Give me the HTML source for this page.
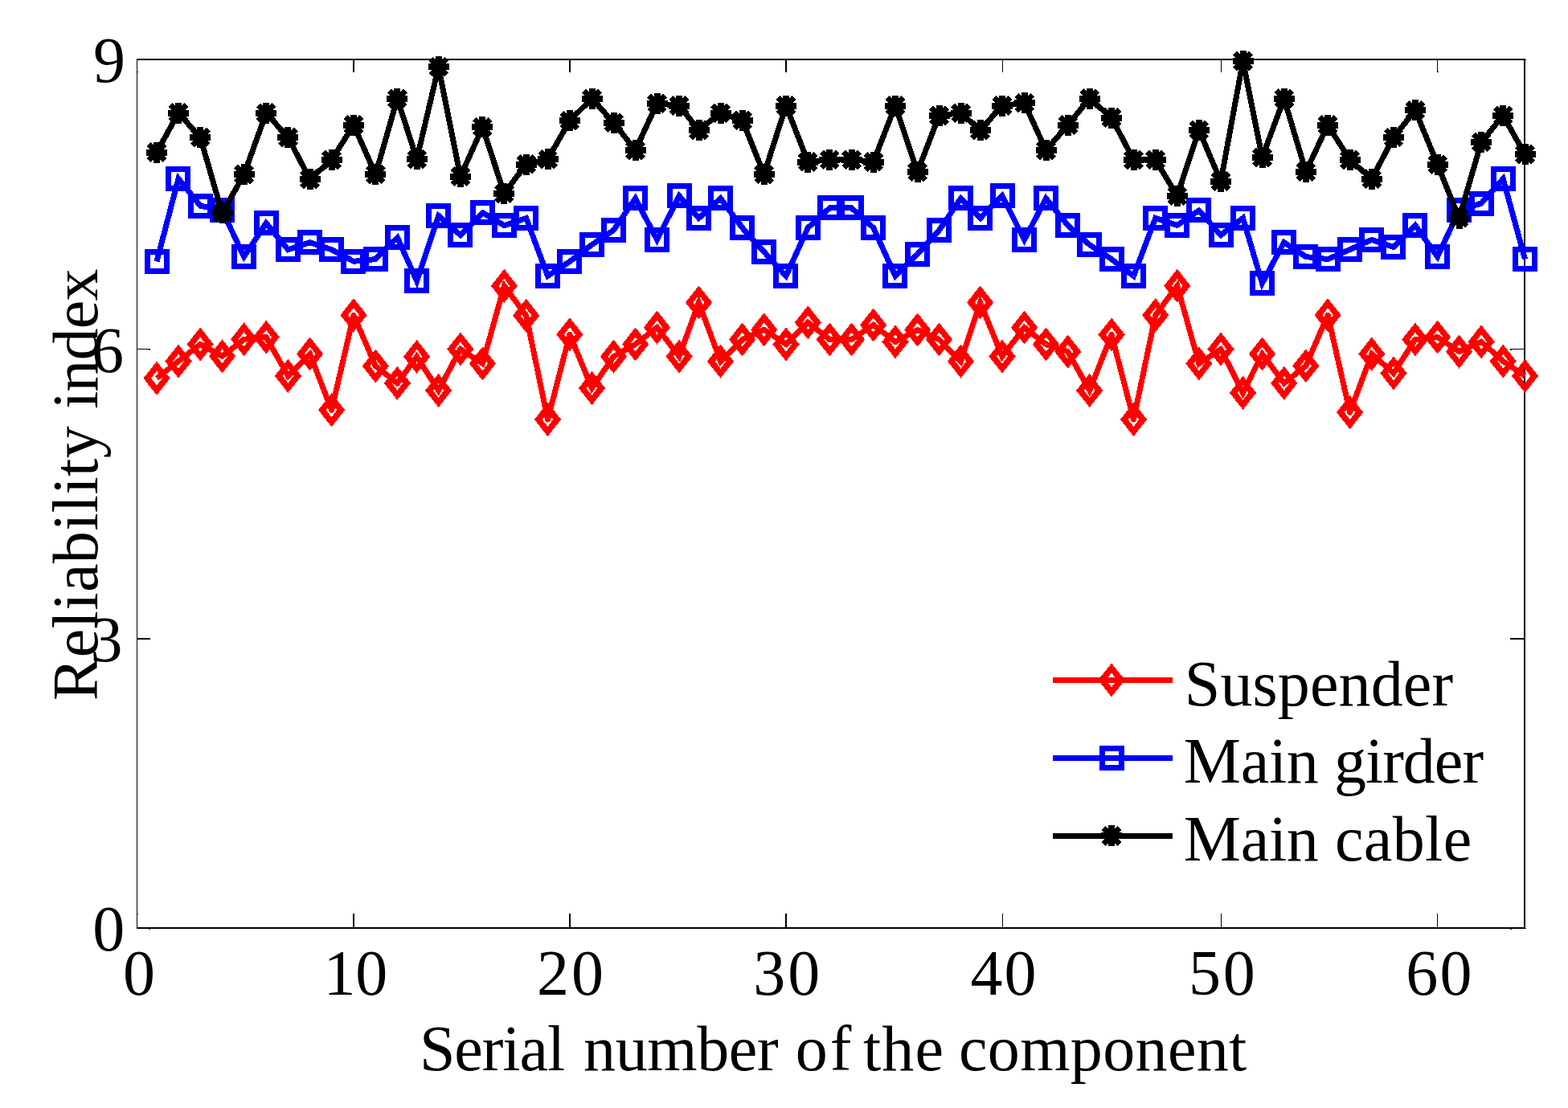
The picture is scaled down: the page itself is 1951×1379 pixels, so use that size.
<!DOCTYPE html>
<html lang="en">
<head>
<meta charset="utf-8">
<title>Reliability index of components</title>
<style>
html,body{margin:0;padding:0;background:#fff;}
body{width:1951px;height:1379px;overflow:hidden;}
svg{display:block;}
text{font-family:"Liberation Serif","DejaVu Serif",serif;font-size:80px;fill:#000;}
</style>
</head>
<body>
<svg width="1951" height="1379" viewBox="0 0 1951 1379">
<rect x="0" y="0" width="1951" height="1379" fill="#fff"/>

<g fill="#000" shape-rendering="crispEdges">
<rect x="170" y="73" width="1728" height="2"/>
<rect x="170" y="1154" width="1728" height="2"/>
<rect x="170" y="73" width="1" height="1083"/>
<rect x="1896" y="73" width="2" height="1083"/>
<rect x="439" y="75" width="2" height="15"/>
<rect x="439" y="1137" width="2" height="17"/>
<rect x="708" y="75" width="2" height="15"/>
<rect x="708" y="1137" width="2" height="17"/>
<rect x="977" y="75" width="2" height="15"/>
<rect x="977" y="1137" width="2" height="17"/>
<rect x="1247" y="75" width="1" height="15"/>
<rect x="1247" y="1137" width="1" height="17"/>
<rect x="1519" y="75" width="1" height="15"/>
<rect x="1519" y="1137" width="1" height="17"/>
<rect x="1788" y="75" width="1" height="15"/>
<rect x="1788" y="1137" width="1" height="17"/>
<rect x="1898" y="74" width="1" height="1"/><rect x="1898" y="1155" width="1" height="1"/><rect x="1879" y="1156" width="2" height="1"/><rect x="185" y="1156" width="2" height="1"/>
<rect x="1789" y="89" width="1" height="1"/><rect x="171" y="89" width="1" height="1"/><rect x="171" y="1137" width="1" height="1"/>
<rect x="171" y="794" width="16" height="2"/><rect x="1879" y="794" width="17" height="2"/>
<rect x="171" y="434" width="16" height="1"/><rect x="185" y="435" width="2" height="1"/>
<rect x="1879" y="434" width="17" height="1"/><rect x="1879" y="435" width="2" height="1"/>
</g>
<g text-anchor="end">
<text x="156" y="102">9</text>
<text x="154" y="463">6</text>
<text x="152.5" y="823">3</text>
<text x="155.3" y="1183">0</text>
</g>
<text y="1237.5"><tspan x="153" style="letter-spacing:0.00px">0</tspan></text>
<text y="1237.5"><tspan x="402.6" style="letter-spacing:-0.40px">10</tspan></text>
<text y="1237.5"><tspan x="668" style="letter-spacing:3.00px">20</tspan></text>
<text y="1237.5"><tspan x="937.2" style="letter-spacing:3.00px">30</tspan></text>
<text y="1237.5"><tspan x="1207.5" style="letter-spacing:1.90px">40</tspan></text>
<text y="1237.5"><tspan x="1479.1" style="letter-spacing:2.70px">50</tspan></text>
<text y="1237.5"><tspan x="1749.2" style="letter-spacing:2.40px">60</tspan></text>
<text y="1332.3"><tspan x="521.9" style="letter-spacing:-1.06px">Serial </tspan><tspan x="726.1" style="letter-spacing:-0.38px">number </tspan><tspan x="989.8" style="letter-spacing:3.00px">of </tspan><tspan x="1073.9" style="letter-spacing:1.20px">the </tspan><tspan x="1193" style="letter-spacing:0.36px">component</tspan></text>
<text transform="translate(120.8 870) rotate(-90)" y="0"><tspan x="-2" style="letter-spacing:0.40px">Reliability </tspan><tspan x="360.9" style="letter-spacing:-0.75px">index</tspan></text>
<g shape-rendering="crispEdges">
<polyline points="195,470.8 222,449.6 249.2,428.5 276.5,443.4 303.6,422.3 331.2,419.6 358.4,467.9 385.6,440.5 412.6,510.3 440,392.2 467.3,455.6 494.4,476.9 518.6,443.9 545.6,486 572.9,434.5 600.4,452.5 627.4,355.8 654.7,392.8 681.5,522.1 708.9,416.3 736.5,483.1 763.5,443.7 790.6,428.5 817.5,407.6 845.1,443.6 869.5,376.5 896.5,449.7 923.6,422.5 950.7,410.3 978,428.5 1005.3,401.4 1032.3,422.5 1059.6,422.5 1086.7,404.5 1114,425.4 1141.6,410.5 1168.5,422.5 1195.5,449.6 1219.6,376.5 1247,443.6 1274.6,407.6 1301.5,428.5 1328.7,437.7 1355.7,486 1383.1,416.5 1410.5,522.1 1437.7,392.2 1464.8,355.8 1491.8,452.5 1519,434.5 1546.5,488.9 1570.5,440.5 1597.7,476.9 1624.8,455.4 1652.1,392.2 1679.6,513.2 1706.8,440.5 1734,464.5 1760.9,422.5 1788.6,419.6 1815.5,437.6 1843.1,425.4 1870.2,449.6 1897.5,467.9" fill="none" stroke="#f00" stroke-width="7" stroke-linejoin="round"/><polyline points="195,470.8 222,449.6 249.2,428.5 276.5,443.4 303.6,422.3 331.2,419.6 358.4,467.9 385.6,440.5 412.6,510.3 440,392.2 467.3,455.6 494.4,476.9 518.6,443.9 545.6,486 572.9,434.5 600.4,452.5 627.4,355.8 654.7,392.8 681.5,522.1 708.9,416.3 736.5,483.1 763.5,443.7 790.6,428.5 817.5,407.6 845.1,443.6 869.5,376.5 896.5,449.7 923.6,422.5 950.7,410.3 978,428.5 1005.3,401.4 1032.3,422.5 1059.6,422.5 1086.7,404.5 1114,425.4 1141.6,410.5 1168.5,422.5 1195.5,449.6 1219.6,376.5 1247,443.6 1274.6,407.6 1301.5,428.5 1328.7,437.7 1355.7,486 1383.1,416.5 1410.5,522.1 1437.7,392.2 1464.8,355.8 1491.8,452.5 1519,434.5 1546.5,488.9 1570.5,440.5 1597.7,476.9 1624.8,455.4 1652.1,392.2 1679.6,513.2 1706.8,440.5 1734,464.5 1760.9,422.5 1788.6,419.6 1815.5,437.6 1843.1,425.4 1870.2,449.6 1897.5,467.9" fill="none" stroke="#f00" stroke-width="7" stroke-linejoin="miter" stroke-miterlimit="3"/>
<g fill="none" stroke="#f00" stroke-width="7" stroke-linejoin="miter" stroke-miterlimit="10">
<path fill="#f00" stroke="none" fill-rule="evenodd" d="M178.4 470.8L195 449.8L211.6 470.8L195 491.8ZM188.2 470.8L195 461.8L201.8 470.8L195 479.8Z"/><path fill="#f00" stroke="none" fill-rule="evenodd" d="M205.4 449.6L222 428.6L238.6 449.6L222 470.6ZM215.2 449.6L222 440.6L228.8 449.6L222 458.6Z"/><path fill="#f00" stroke="none" fill-rule="evenodd" d="M232.6 428.5L249.2 407.5L265.8 428.5L249.2 449.5ZM242.4 428.5L249.2 419.5L256 428.5L249.2 437.5Z"/><path fill="#f00" stroke="none" fill-rule="evenodd" d="M259.9 443.4L276.5 422.4L293.1 443.4L276.5 464.4ZM269.7 443.4L276.5 434.4L283.3 443.4L276.5 452.4Z"/><path fill="#f00" stroke="none" fill-rule="evenodd" d="M287 422.3L303.6 401.3L320.2 422.3L303.6 443.3ZM296.8 422.3L303.6 413.3L310.4 422.3L303.6 431.3Z"/><path fill="#f00" stroke="none" fill-rule="evenodd" d="M314.6 419.6L331.2 398.6L347.8 419.6L331.2 440.6ZM324.4 419.6L331.2 410.6L338 419.6L331.2 428.6Z"/><path fill="#f00" stroke="none" fill-rule="evenodd" d="M341.8 467.9L358.4 446.9L375 467.9L358.4 488.9ZM351.6 467.9L358.4 458.9L365.2 467.9L358.4 476.9Z"/><path fill="#f00" stroke="none" fill-rule="evenodd" d="M369 440.5L385.6 419.5L402.2 440.5L385.6 461.5ZM378.8 440.5L385.6 431.5L392.4 440.5L385.6 449.5Z"/><path fill="#f00" stroke="none" fill-rule="evenodd" d="M396 510.3L412.6 489.3L429.2 510.3L412.6 531.3ZM405.8 510.3L412.6 501.3L419.4 510.3L412.6 519.3Z"/><path fill="#f00" stroke="none" fill-rule="evenodd" d="M423.4 392.2L440 371.2L456.6 392.2L440 413.2ZM433.2 392.2L440 383.2L446.8 392.2L440 401.2Z"/><path fill="#f00" stroke="none" fill-rule="evenodd" d="M450.7 455.6L467.3 434.6L483.9 455.6L467.3 476.6ZM460.5 455.6L467.3 446.6L474.1 455.6L467.3 464.6Z"/><path fill="#f00" stroke="none" fill-rule="evenodd" d="M477.8 476.9L494.4 455.9L511 476.9L494.4 497.9ZM487.6 476.9L494.4 467.9L501.2 476.9L494.4 485.9Z"/><path fill="#f00" stroke="none" fill-rule="evenodd" d="M502 443.9L518.6 422.9L535.2 443.9L518.6 464.9ZM511.8 443.9L518.6 434.9L525.4 443.9L518.6 452.9Z"/><path fill="#f00" stroke="none" fill-rule="evenodd" d="M529 486L545.6 465L562.2 486L545.6 507ZM538.8 486L545.6 477L552.4 486L545.6 495Z"/><path fill="#f00" stroke="none" fill-rule="evenodd" d="M556.3 434.5L572.9 413.5L589.5 434.5L572.9 455.5ZM566.1 434.5L572.9 425.5L579.7 434.5L572.9 443.5Z"/><path fill="#f00" stroke="none" fill-rule="evenodd" d="M583.8 452.5L600.4 431.5L617 452.5L600.4 473.5ZM593.6 452.5L600.4 443.5L607.2 452.5L600.4 461.5Z"/><path fill="#f00" stroke="none" fill-rule="evenodd" d="M610.8 355.8L627.4 334.8L644 355.8L627.4 376.8ZM620.6 355.8L627.4 346.8L634.2 355.8L627.4 364.8Z"/><path fill="#f00" stroke="none" fill-rule="evenodd" d="M638.1 392.8L654.7 371.8L671.3 392.8L654.7 413.8ZM647.9 392.8L654.7 383.8L661.5 392.8L654.7 401.8Z"/><path fill="#f00" stroke="none" fill-rule="evenodd" d="M664.9 522.1L681.5 501.1L698.1 522.1L681.5 543.1ZM674.7 522.1L681.5 513.1L688.3 522.1L681.5 531.1Z"/><path fill="#f00" stroke="none" fill-rule="evenodd" d="M692.3 416.3L708.9 395.3L725.5 416.3L708.9 437.3ZM702.1 416.3L708.9 407.3L715.7 416.3L708.9 425.3Z"/><path fill="#f00" stroke="none" fill-rule="evenodd" d="M719.9 483.1L736.5 462.1L753.1 483.1L736.5 504.1ZM729.7 483.1L736.5 474.1L743.3 483.1L736.5 492.1Z"/><path fill="#f00" stroke="none" fill-rule="evenodd" d="M746.9 443.7L763.5 422.7L780.1 443.7L763.5 464.7ZM756.7 443.7L763.5 434.7L770.3 443.7L763.5 452.7Z"/><path fill="#f00" stroke="none" fill-rule="evenodd" d="M774 428.5L790.6 407.5L807.2 428.5L790.6 449.5ZM783.8 428.5L790.6 419.5L797.4 428.5L790.6 437.5Z"/><path fill="#f00" stroke="none" fill-rule="evenodd" d="M800.9 407.6L817.5 386.6L834.1 407.6L817.5 428.6ZM810.7 407.6L817.5 398.6L824.3 407.6L817.5 416.6Z"/><path fill="#f00" stroke="none" fill-rule="evenodd" d="M828.5 443.6L845.1 422.6L861.7 443.6L845.1 464.6ZM838.3 443.6L845.1 434.6L851.9 443.6L845.1 452.6Z"/><path fill="#f00" stroke="none" fill-rule="evenodd" d="M852.9 376.5L869.5 355.5L886.1 376.5L869.5 397.5ZM862.7 376.5L869.5 367.5L876.3 376.5L869.5 385.5Z"/><path fill="#f00" stroke="none" fill-rule="evenodd" d="M879.9 449.7L896.5 428.7L913.1 449.7L896.5 470.7ZM889.7 449.7L896.5 440.7L903.3 449.7L896.5 458.7Z"/><path fill="#f00" stroke="none" fill-rule="evenodd" d="M907 422.5L923.6 401.5L940.2 422.5L923.6 443.5ZM916.8 422.5L923.6 413.5L930.4 422.5L923.6 431.5Z"/><path fill="#f00" stroke="none" fill-rule="evenodd" d="M934.1 410.3L950.7 389.3L967.3 410.3L950.7 431.3ZM943.9 410.3L950.7 401.3L957.5 410.3L950.7 419.3Z"/><path fill="#f00" stroke="none" fill-rule="evenodd" d="M961.4 428.5L978 407.5L994.6 428.5L978 449.5ZM971.2 428.5L978 419.5L984.8 428.5L978 437.5Z"/><path fill="#f00" stroke="none" fill-rule="evenodd" d="M988.7 401.4L1005.3 380.4L1021.9 401.4L1005.3 422.4ZM998.5 401.4L1005.3 392.4L1012.1 401.4L1005.3 410.4Z"/><path fill="#f00" stroke="none" fill-rule="evenodd" d="M1015.7 422.5L1032.3 401.5L1048.9 422.5L1032.3 443.5ZM1025.5 422.5L1032.3 413.5L1039.1 422.5L1032.3 431.5Z"/><path fill="#f00" stroke="none" fill-rule="evenodd" d="M1043 422.5L1059.6 401.5L1076.2 422.5L1059.6 443.5ZM1052.8 422.5L1059.6 413.5L1066.4 422.5L1059.6 431.5Z"/><path fill="#f00" stroke="none" fill-rule="evenodd" d="M1070.1 404.5L1086.7 383.5L1103.3 404.5L1086.7 425.5ZM1079.9 404.5L1086.7 395.5L1093.5 404.5L1086.7 413.5Z"/><path fill="#f00" stroke="none" fill-rule="evenodd" d="M1097.4 425.4L1114 404.4L1130.6 425.4L1114 446.4ZM1107.2 425.4L1114 416.4L1120.8 425.4L1114 434.4Z"/><path fill="#f00" stroke="none" fill-rule="evenodd" d="M1125 410.5L1141.6 389.5L1158.2 410.5L1141.6 431.5ZM1134.8 410.5L1141.6 401.5L1148.4 410.5L1141.6 419.5Z"/><path fill="#f00" stroke="none" fill-rule="evenodd" d="M1151.9 422.5L1168.5 401.5L1185.1 422.5L1168.5 443.5ZM1161.7 422.5L1168.5 413.5L1175.3 422.5L1168.5 431.5Z"/><path fill="#f00" stroke="none" fill-rule="evenodd" d="M1178.9 449.6L1195.5 428.6L1212.1 449.6L1195.5 470.6ZM1188.7 449.6L1195.5 440.6L1202.3 449.6L1195.5 458.6Z"/><path fill="#f00" stroke="none" fill-rule="evenodd" d="M1203 376.5L1219.6 355.5L1236.2 376.5L1219.6 397.5ZM1212.8 376.5L1219.6 367.5L1226.4 376.5L1219.6 385.5Z"/><path fill="#f00" stroke="none" fill-rule="evenodd" d="M1230.4 443.6L1247 422.6L1263.6 443.6L1247 464.6ZM1240.2 443.6L1247 434.6L1253.8 443.6L1247 452.6Z"/><path fill="#f00" stroke="none" fill-rule="evenodd" d="M1258 407.6L1274.6 386.6L1291.2 407.6L1274.6 428.6ZM1267.8 407.6L1274.6 398.6L1281.4 407.6L1274.6 416.6Z"/><path fill="#f00" stroke="none" fill-rule="evenodd" d="M1284.9 428.5L1301.5 407.5L1318.1 428.5L1301.5 449.5ZM1294.7 428.5L1301.5 419.5L1308.3 428.5L1301.5 437.5Z"/><path fill="#f00" stroke="none" fill-rule="evenodd" d="M1312.1 437.7L1328.7 416.7L1345.3 437.7L1328.7 458.7ZM1321.9 437.7L1328.7 428.7L1335.5 437.7L1328.7 446.7Z"/><path fill="#f00" stroke="none" fill-rule="evenodd" d="M1339.1 486L1355.7 465L1372.3 486L1355.7 507ZM1348.9 486L1355.7 477L1362.5 486L1355.7 495Z"/><path fill="#f00" stroke="none" fill-rule="evenodd" d="M1366.5 416.5L1383.1 395.5L1399.7 416.5L1383.1 437.5ZM1376.3 416.5L1383.1 407.5L1389.9 416.5L1383.1 425.5Z"/><path fill="#f00" stroke="none" fill-rule="evenodd" d="M1393.9 522.1L1410.5 501.1L1427.1 522.1L1410.5 543.1ZM1403.7 522.1L1410.5 513.1L1417.3 522.1L1410.5 531.1Z"/><path fill="#f00" stroke="none" fill-rule="evenodd" d="M1421.1 392.2L1437.7 371.2L1454.3 392.2L1437.7 413.2ZM1430.9 392.2L1437.7 383.2L1444.5 392.2L1437.7 401.2Z"/><path fill="#f00" stroke="none" fill-rule="evenodd" d="M1448.2 355.8L1464.8 334.8L1481.4 355.8L1464.8 376.8ZM1458 355.8L1464.8 346.8L1471.6 355.8L1464.8 364.8Z"/><path fill="#f00" stroke="none" fill-rule="evenodd" d="M1475.2 452.5L1491.8 431.5L1508.4 452.5L1491.8 473.5ZM1485 452.5L1491.8 443.5L1498.6 452.5L1491.8 461.5Z"/><path fill="#f00" stroke="none" fill-rule="evenodd" d="M1502.4 434.5L1519 413.5L1535.6 434.5L1519 455.5ZM1512.2 434.5L1519 425.5L1525.8 434.5L1519 443.5Z"/><path fill="#f00" stroke="none" fill-rule="evenodd" d="M1529.9 488.9L1546.5 467.9L1563.1 488.9L1546.5 509.9ZM1539.7 488.9L1546.5 479.9L1553.3 488.9L1546.5 497.9Z"/><path fill="#f00" stroke="none" fill-rule="evenodd" d="M1553.9 440.5L1570.5 419.5L1587.1 440.5L1570.5 461.5ZM1563.7 440.5L1570.5 431.5L1577.3 440.5L1570.5 449.5Z"/><path fill="#f00" stroke="none" fill-rule="evenodd" d="M1581.1 476.9L1597.7 455.9L1614.3 476.9L1597.7 497.9ZM1590.9 476.9L1597.7 467.9L1604.5 476.9L1597.7 485.9Z"/><path fill="#f00" stroke="none" fill-rule="evenodd" d="M1608.2 455.4L1624.8 434.4L1641.4 455.4L1624.8 476.4ZM1618 455.4L1624.8 446.4L1631.6 455.4L1624.8 464.4Z"/><path fill="#f00" stroke="none" fill-rule="evenodd" d="M1635.5 392.2L1652.1 371.2L1668.7 392.2L1652.1 413.2ZM1645.3 392.2L1652.1 383.2L1658.9 392.2L1652.1 401.2Z"/><path fill="#f00" stroke="none" fill-rule="evenodd" d="M1663 513.2L1679.6 492.2L1696.2 513.2L1679.6 534.2ZM1672.8 513.2L1679.6 504.2L1686.4 513.2L1679.6 522.2Z"/><path fill="#f00" stroke="none" fill-rule="evenodd" d="M1690.2 440.5L1706.8 419.5L1723.4 440.5L1706.8 461.5ZM1700 440.5L1706.8 431.5L1713.6 440.5L1706.8 449.5Z"/><path fill="#f00" stroke="none" fill-rule="evenodd" d="M1717.4 464.5L1734 443.5L1750.6 464.5L1734 485.5ZM1727.2 464.5L1734 455.5L1740.8 464.5L1734 473.5Z"/><path fill="#f00" stroke="none" fill-rule="evenodd" d="M1744.3 422.5L1760.9 401.5L1777.5 422.5L1760.9 443.5ZM1754.1 422.5L1760.9 413.5L1767.7 422.5L1760.9 431.5Z"/><path fill="#f00" stroke="none" fill-rule="evenodd" d="M1772 419.6L1788.6 398.6L1805.2 419.6L1788.6 440.6ZM1781.8 419.6L1788.6 410.6L1795.4 419.6L1788.6 428.6Z"/><path fill="#f00" stroke="none" fill-rule="evenodd" d="M1798.9 437.6L1815.5 416.6L1832.1 437.6L1815.5 458.6ZM1808.7 437.6L1815.5 428.6L1822.3 437.6L1815.5 446.6Z"/><path fill="#f00" stroke="none" fill-rule="evenodd" d="M1826.5 425.4L1843.1 404.4L1859.7 425.4L1843.1 446.4ZM1836.3 425.4L1843.1 416.4L1849.9 425.4L1843.1 434.4Z"/><path fill="#f00" stroke="none" fill-rule="evenodd" d="M1853.6 449.6L1870.2 428.6L1886.8 449.6L1870.2 470.6ZM1863.4 449.6L1870.2 440.6L1877 449.6L1870.2 458.6Z"/><path fill="#f00" stroke="none" fill-rule="evenodd" d="M1880.9 467.9L1897.5 446.9L1914.1 467.9L1897.5 488.9ZM1890.7 467.9L1897.5 458.9L1904.3 467.9L1897.5 476.9Z"/>
</g>
<polyline points="195,325.6 222,222.3 249.2,256.1 276.5,262 303.6,319.5 331.2,277.7 358.4,310.7 385.6,301.8 412.6,310.7 440,325.3 467.3,322.6 494.4,295.6 518.6,349.6 545.6,268.4 572.9,292.6 600.4,264.7 627.4,280.6 654.7,271.5 681.5,343.5 708.9,325.5 736.5,304.6 763.5,286.4 790.6,246.9 817.5,298.4 845.1,243.8 869.5,271.5 896.5,246.9 923.6,283.5 950.7,313.5 978,343.5 1005.3,283.5 1032.3,258.9 1059.6,258.9 1086.7,283.5 1114,343.5 1141.6,316.4 1168.5,286.6 1195.5,246.9 1219.6,271.5 1247,243.8 1274.6,298.4 1301.5,246.9 1328.7,280.4 1355.7,304.6 1383.1,322.6 1410.5,343.5 1437.7,271.5 1464.8,280.4 1491.8,262 1519,292.6 1546.5,271.5 1570.5,352.5 1597.7,301.6 1624.8,319.5 1652.1,322.6 1679.6,310.6 1706.8,298.4 1734,307.5 1760.9,280.4 1788.6,319.5 1815.5,262 1843.1,253 1870.2,222.6 1897.5,322.6" fill="none" stroke="#00f" stroke-width="7" stroke-linejoin="round"/><polyline points="195,325.6 222,222.3 249.2,256.1 276.5,262 303.6,319.5 331.2,277.7 358.4,310.7 385.6,301.8 412.6,310.7 440,325.3 467.3,322.6 494.4,295.6 518.6,349.6 545.6,268.4 572.9,292.6 600.4,264.7 627.4,280.6 654.7,271.5 681.5,343.5 708.9,325.5 736.5,304.6 763.5,286.4 790.6,246.9 817.5,298.4 845.1,243.8 869.5,271.5 896.5,246.9 923.6,283.5 950.7,313.5 978,343.5 1005.3,283.5 1032.3,258.9 1059.6,258.9 1086.7,283.5 1114,343.5 1141.6,316.4 1168.5,286.6 1195.5,246.9 1219.6,271.5 1247,243.8 1274.6,298.4 1301.5,246.9 1328.7,280.4 1355.7,304.6 1383.1,322.6 1410.5,343.5 1437.7,271.5 1464.8,280.4 1491.8,262 1519,292.6 1546.5,271.5 1570.5,352.5 1597.7,301.6 1624.8,319.5 1652.1,322.6 1679.6,310.6 1706.8,298.4 1734,307.5 1760.9,280.4 1788.6,319.5 1815.5,262 1843.1,253 1870.2,222.6 1897.5,322.6" fill="none" stroke="#00f" stroke-width="7" stroke-linejoin="miter" stroke-miterlimit="3"/>
<g fill="none" stroke="#00f" stroke-width="7" stroke-linejoin="miter" stroke-miterlimit="10">
<path fill="#00f" stroke="none" fill-rule="evenodd" d="M180 310h31v31h-31ZM187 317h17v17h-17Z"/><path fill="#00f" stroke="none" fill-rule="evenodd" d="M206 207h31v31h-31ZM213 214h17v17h-17Z"/><path fill="#00f" stroke="none" fill-rule="evenodd" d="M234 241h31v31h-31ZM241 248h17v17h-17Z"/><path fill="#00f" stroke="none" fill-rule="evenodd" d="M261 246h31v31h-31ZM268 253h17v17h-17Z"/><path fill="#00f" stroke="none" fill-rule="evenodd" d="M288 304h31v31h-31ZM295 311h17v17h-17Z"/><path fill="#00f" stroke="none" fill-rule="evenodd" d="M316 262h31v31h-31ZM323 269h17v17h-17Z"/><path fill="#00f" stroke="none" fill-rule="evenodd" d="M343 295h31v31h-31ZM350 302h17v17h-17Z"/><path fill="#00f" stroke="none" fill-rule="evenodd" d="M370 286h31v31h-31ZM377 293h17v17h-17Z"/><path fill="#00f" stroke="none" fill-rule="evenodd" d="M397 295h31v31h-31ZM404 302h17v17h-17Z"/><path fill="#00f" stroke="none" fill-rule="evenodd" d="M424 310h31v31h-31ZM431 317h17v17h-17Z"/><path fill="#00f" stroke="none" fill-rule="evenodd" d="M452 307h31v31h-31ZM459 314h17v17h-17Z"/><path fill="#00f" stroke="none" fill-rule="evenodd" d="M479 280h31v31h-31ZM486 287h17v17h-17Z"/><path fill="#00f" stroke="none" fill-rule="evenodd" d="M503 334h31v31h-31ZM510 341h17v17h-17Z"/><path fill="#00f" stroke="none" fill-rule="evenodd" d="M530 253h31v31h-31ZM537 260h17v17h-17Z"/><path fill="#00f" stroke="none" fill-rule="evenodd" d="M557 277h31v31h-31ZM564 284h17v17h-17Z"/><path fill="#00f" stroke="none" fill-rule="evenodd" d="M585 249h31v31h-31ZM592 256h17v17h-17Z"/><path fill="#00f" stroke="none" fill-rule="evenodd" d="M612 265h31v31h-31ZM619 272h17v17h-17Z"/><path fill="#00f" stroke="none" fill-rule="evenodd" d="M639 256h31v31h-31ZM646 263h17v17h-17Z"/><path fill="#00f" stroke="none" fill-rule="evenodd" d="M666 328h31v31h-31ZM673 335h17v17h-17Z"/><path fill="#00f" stroke="none" fill-rule="evenodd" d="M693 310h31v31h-31ZM700 317h17v17h-17Z"/><path fill="#00f" stroke="none" fill-rule="evenodd" d="M721 289h31v31h-31ZM728 296h17v17h-17Z"/><path fill="#00f" stroke="none" fill-rule="evenodd" d="M748 271h31v31h-31ZM755 278h17v17h-17Z"/><path fill="#00f" stroke="none" fill-rule="evenodd" d="M775 231h31v31h-31ZM782 238h17v17h-17Z"/><path fill="#00f" stroke="none" fill-rule="evenodd" d="M802 283h31v31h-31ZM809 290h17v17h-17Z"/><path fill="#00f" stroke="none" fill-rule="evenodd" d="M830 228h31v31h-31ZM837 235h17v17h-17Z"/><path fill="#00f" stroke="none" fill-rule="evenodd" d="M854 256h31v31h-31ZM861 263h17v17h-17Z"/><path fill="#00f" stroke="none" fill-rule="evenodd" d="M881 231h31v31h-31ZM888 238h17v17h-17Z"/><path fill="#00f" stroke="none" fill-rule="evenodd" d="M908 268h31v31h-31ZM915 275h17v17h-17Z"/><path fill="#00f" stroke="none" fill-rule="evenodd" d="M935 298h31v31h-31ZM942 305h17v17h-17Z"/><path fill="#00f" stroke="none" fill-rule="evenodd" d="M962 328h31v31h-31ZM969 335h17v17h-17Z"/><path fill="#00f" stroke="none" fill-rule="evenodd" d="M990 268h31v31h-31ZM997 275h17v17h-17Z"/><path fill="#00f" stroke="none" fill-rule="evenodd" d="M1017 243h31v31h-31ZM1024 250h17v17h-17Z"/><path fill="#00f" stroke="none" fill-rule="evenodd" d="M1044 243h31v31h-31ZM1051 250h17v17h-17Z"/><path fill="#00f" stroke="none" fill-rule="evenodd" d="M1071 268h31v31h-31ZM1078 275h17v17h-17Z"/><path fill="#00f" stroke="none" fill-rule="evenodd" d="M1098 328h31v31h-31ZM1105 335h17v17h-17Z"/><path fill="#00f" stroke="none" fill-rule="evenodd" d="M1126 301h31v31h-31ZM1133 308h17v17h-17Z"/><path fill="#00f" stroke="none" fill-rule="evenodd" d="M1153 271h31v31h-31ZM1160 278h17v17h-17Z"/><path fill="#00f" stroke="none" fill-rule="evenodd" d="M1180 231h31v31h-31ZM1187 238h17v17h-17Z"/><path fill="#00f" stroke="none" fill-rule="evenodd" d="M1204 256h31v31h-31ZM1211 263h17v17h-17Z"/><path fill="#00f" stroke="none" fill-rule="evenodd" d="M1232 228h31v31h-31ZM1239 235h17v17h-17Z"/><path fill="#00f" stroke="none" fill-rule="evenodd" d="M1259 283h31v31h-31ZM1266 290h17v17h-17Z"/><path fill="#00f" stroke="none" fill-rule="evenodd" d="M1286 231h31v31h-31ZM1293 238h17v17h-17Z"/><path fill="#00f" stroke="none" fill-rule="evenodd" d="M1313 265h31v31h-31ZM1320 272h17v17h-17Z"/><path fill="#00f" stroke="none" fill-rule="evenodd" d="M1340 289h31v31h-31ZM1347 296h17v17h-17Z"/><path fill="#00f" stroke="none" fill-rule="evenodd" d="M1368 307h31v31h-31ZM1375 314h17v17h-17Z"/><path fill="#00f" stroke="none" fill-rule="evenodd" d="M1395 328h31v31h-31ZM1402 335h17v17h-17Z"/><path fill="#00f" stroke="none" fill-rule="evenodd" d="M1422 256h31v31h-31ZM1429 263h17v17h-17Z"/><path fill="#00f" stroke="none" fill-rule="evenodd" d="M1449 265h31v31h-31ZM1456 272h17v17h-17Z"/><path fill="#00f" stroke="none" fill-rule="evenodd" d="M1476 246h31v31h-31ZM1483 253h17v17h-17Z"/><path fill="#00f" stroke="none" fill-rule="evenodd" d="M1504 277h31v31h-31ZM1511 284h17v17h-17Z"/><path fill="#00f" stroke="none" fill-rule="evenodd" d="M1531 256h31v31h-31ZM1538 263h17v17h-17Z"/><path fill="#00f" stroke="none" fill-rule="evenodd" d="M1555 337h31v31h-31ZM1562 344h17v17h-17Z"/><path fill="#00f" stroke="none" fill-rule="evenodd" d="M1582 286h31v31h-31ZM1589 293h17v17h-17Z"/><path fill="#00f" stroke="none" fill-rule="evenodd" d="M1609 304h31v31h-31ZM1616 311h17v17h-17Z"/><path fill="#00f" stroke="none" fill-rule="evenodd" d="M1637 307h31v31h-31ZM1644 314h17v17h-17Z"/><path fill="#00f" stroke="none" fill-rule="evenodd" d="M1664 295h31v31h-31ZM1671 302h17v17h-17Z"/><path fill="#00f" stroke="none" fill-rule="evenodd" d="M1691 283h31v31h-31ZM1698 290h17v17h-17Z"/><path fill="#00f" stroke="none" fill-rule="evenodd" d="M1718 292h31v31h-31ZM1725 299h17v17h-17Z"/><path fill="#00f" stroke="none" fill-rule="evenodd" d="M1745 265h31v31h-31ZM1752 272h17v17h-17Z"/><path fill="#00f" stroke="none" fill-rule="evenodd" d="M1773 304h31v31h-31ZM1780 311h17v17h-17Z"/><path fill="#00f" stroke="none" fill-rule="evenodd" d="M1800 246h31v31h-31ZM1807 253h17v17h-17Z"/><path fill="#00f" stroke="none" fill-rule="evenodd" d="M1828 238h31v31h-31ZM1835 245h17v17h-17Z"/><path fill="#00f" stroke="none" fill-rule="evenodd" d="M1855 207h31v31h-31ZM1862 214h17v17h-17Z"/><path fill="#00f" stroke="none" fill-rule="evenodd" d="M1882 307h31v31h-31ZM1889 314h17v17h-17Z"/>
</g>
<polyline points="195,189.6 222,140.6 249.2,171 276.5,265.4 303.6,216.9 331.2,140.7 358.4,171 385.6,223 412.6,198.9 440,155.6 467.3,216.9 494.4,122.7 518.6,198.4 545.6,83.4 572.9,219.6 600.4,158.4 627.4,240.7 654.7,204.5 681.5,198.4 708.9,150 736.5,122.6 763.5,152.7 790.6,186.9 817.5,128.7 845.1,131.5 869.5,161.8 896.5,140.7 923.6,149.7 950.7,216.9 978,131.5 1005.3,201.5 1032.3,198.7 1059.6,198.7 1086.7,201.5 1114,131.5 1141.6,213.8 1168.5,143.8 1195.5,140.7 1219.6,162 1247,131.5 1274.6,128.4 1301.5,186.9 1328.7,155.6 1355.7,122.6 1383.1,146.6 1410.5,198.9 1437.7,198.9 1464.8,243.8 1491.8,161.8 1519,225.8 1546.5,76.1 1570.5,195.8 1597.7,122.6 1624.8,213.8 1652.1,155.6 1679.6,198.9 1706.8,222.7 1734,171 1760.9,137.3 1788.6,204.5 1815.5,271.5 1843.1,176.9 1870.2,143.8 1897.5,192.2" fill="none" stroke="#000" stroke-width="7" stroke-linejoin="round"/><polyline points="195,189.6 222,140.6 249.2,171 276.5,265.4 303.6,216.9 331.2,140.7 358.4,171 385.6,223 412.6,198.9 440,155.6 467.3,216.9 494.4,122.7 518.6,198.4 545.6,83.4 572.9,219.6 600.4,158.4 627.4,240.7 654.7,204.5 681.5,198.4 708.9,150 736.5,122.6 763.5,152.7 790.6,186.9 817.5,128.7 845.1,131.5 869.5,161.8 896.5,140.7 923.6,149.7 950.7,216.9 978,131.5 1005.3,201.5 1032.3,198.7 1059.6,198.7 1086.7,201.5 1114,131.5 1141.6,213.8 1168.5,143.8 1195.5,140.7 1219.6,162 1247,131.5 1274.6,128.4 1301.5,186.9 1328.7,155.6 1355.7,122.6 1383.1,146.6 1410.5,198.9 1437.7,198.9 1464.8,243.8 1491.8,161.8 1519,225.8 1546.5,76.1 1570.5,195.8 1597.7,122.6 1624.8,213.8 1652.1,155.6 1679.6,198.9 1706.8,222.7 1734,171 1760.9,137.3 1788.6,204.5 1815.5,271.5 1843.1,176.9 1870.2,143.8 1897.5,192.2" fill="none" stroke="#000" stroke-width="7" stroke-linejoin="miter" stroke-miterlimit="3"/>
<g fill="none" stroke="#000" stroke-width="7" stroke-linejoin="miter" stroke-miterlimit="10">
<path stroke-width="8" d="M182 189.6H208M195 176.6V202.6"/><path stroke-width="7" d="M185.1 179.7L204.9 199.5M185.1 199.5L204.9 179.7"/><path stroke-width="8" d="M209 140.6H235M222 127.6V153.6"/><path stroke-width="7" d="M212.1 130.7L231.9 150.5M212.1 150.5L231.9 130.7"/><path stroke-width="8" d="M236.2 171H262.2M249.2 158V184"/><path stroke-width="7" d="M239.3 161.1L259.1 180.9M239.3 180.9L259.1 161.1"/><path stroke-width="8" d="M263.5 265.4H289.5M276.5 252.4V278.4"/><path stroke-width="7" d="M266.6 255.5L286.4 275.3M266.6 275.3L286.4 255.5"/><path stroke-width="8" d="M290.6 216.9H316.6M303.6 203.9V229.9"/><path stroke-width="7" d="M293.7 207L313.5 226.8M293.7 226.8L313.5 207"/><path stroke-width="8" d="M318.2 140.7H344.2M331.2 127.7V153.7"/><path stroke-width="7" d="M321.3 130.8L341.1 150.6M321.3 150.6L341.1 130.8"/><path stroke-width="8" d="M345.4 171H371.4M358.4 158V184"/><path stroke-width="7" d="M348.5 161.1L368.3 180.9M348.5 180.9L368.3 161.1"/><path stroke-width="8" d="M372.6 223H398.6M385.6 210V236"/><path stroke-width="7" d="M375.7 213.1L395.5 232.9M375.7 232.9L395.5 213.1"/><path stroke-width="8" d="M399.6 198.9H425.6M412.6 185.9V211.9"/><path stroke-width="7" d="M402.7 189L422.5 208.8M402.7 208.8L422.5 189"/><path stroke-width="8" d="M427 155.6H453M440 142.6V168.6"/><path stroke-width="7" d="M430.1 145.7L449.9 165.5M430.1 165.5L449.9 145.7"/><path stroke-width="8" d="M454.3 216.9H480.3M467.3 203.9V229.9"/><path stroke-width="7" d="M457.4 207L477.2 226.8M457.4 226.8L477.2 207"/><path stroke-width="8" d="M481.4 122.7H507.4M494.4 109.7V135.7"/><path stroke-width="7" d="M484.5 112.8L504.3 132.6M484.5 132.6L504.3 112.8"/><path stroke-width="8" d="M505.6 198.4H531.6M518.6 185.4V211.4"/><path stroke-width="7" d="M508.7 188.5L528.5 208.3M508.7 208.3L528.5 188.5"/><path stroke-width="8" d="M532.6 83.4H558.6M545.6 70.4V96.4"/><path stroke-width="7" d="M535.7 73.5L555.5 93.3M535.7 93.3L555.5 73.5"/><path stroke-width="8" d="M559.9 219.6H585.9M572.9 206.6V232.6"/><path stroke-width="7" d="M563 209.7L582.8 229.5M563 229.5L582.8 209.7"/><path stroke-width="8" d="M587.4 158.4H613.4M600.4 145.4V171.4"/><path stroke-width="7" d="M590.5 148.5L610.3 168.3M590.5 168.3L610.3 148.5"/><path stroke-width="8" d="M614.4 240.7H640.4M627.4 227.7V253.7"/><path stroke-width="7" d="M617.5 230.8L637.3 250.6M617.5 250.6L637.3 230.8"/><path stroke-width="8" d="M641.7 204.5H667.7M654.7 191.5V217.5"/><path stroke-width="7" d="M644.8 194.6L664.6 214.4M644.8 214.4L664.6 194.6"/><path stroke-width="8" d="M668.5 198.4H694.5M681.5 185.4V211.4"/><path stroke-width="7" d="M671.6 188.5L691.4 208.3M671.6 208.3L691.4 188.5"/><path stroke-width="8" d="M695.9 150H721.9M708.9 137V163"/><path stroke-width="7" d="M699 140.1L718.8 159.9M699 159.9L718.8 140.1"/><path stroke-width="8" d="M723.5 122.6H749.5M736.5 109.6V135.6"/><path stroke-width="7" d="M726.6 112.7L746.4 132.5M726.6 132.5L746.4 112.7"/><path stroke-width="8" d="M750.5 152.7H776.5M763.5 139.7V165.7"/><path stroke-width="7" d="M753.6 142.8L773.4 162.6M753.6 162.6L773.4 142.8"/><path stroke-width="8" d="M777.6 186.9H803.6M790.6 173.9V199.9"/><path stroke-width="7" d="M780.7 177L800.5 196.8M780.7 196.8L800.5 177"/><path stroke-width="8" d="M804.5 128.7H830.5M817.5 115.7V141.7"/><path stroke-width="7" d="M807.6 118.8L827.4 138.6M807.6 138.6L827.4 118.8"/><path stroke-width="8" d="M832.1 131.5H858.1M845.1 118.5V144.5"/><path stroke-width="7" d="M835.2 121.6L855 141.4M835.2 141.4L855 121.6"/><path stroke-width="8" d="M856.5 161.8H882.5M869.5 148.8V174.8"/><path stroke-width="7" d="M859.6 151.9L879.4 171.7M859.6 171.7L879.4 151.9"/><path stroke-width="8" d="M883.5 140.7H909.5M896.5 127.7V153.7"/><path stroke-width="7" d="M886.6 130.8L906.4 150.6M886.6 150.6L906.4 130.8"/><path stroke-width="8" d="M910.6 149.7H936.6M923.6 136.7V162.7"/><path stroke-width="7" d="M913.7 139.8L933.5 159.6M913.7 159.6L933.5 139.8"/><path stroke-width="8" d="M937.7 216.9H963.7M950.7 203.9V229.9"/><path stroke-width="7" d="M940.8 207L960.6 226.8M940.8 226.8L960.6 207"/><path stroke-width="8" d="M965 131.5H991M978 118.5V144.5"/><path stroke-width="7" d="M968.1 121.6L987.9 141.4M968.1 141.4L987.9 121.6"/><path stroke-width="8" d="M992.3 201.5H1018.3M1005.3 188.5V214.5"/><path stroke-width="7" d="M995.4 191.6L1015.2 211.4M995.4 211.4L1015.2 191.6"/><path stroke-width="8" d="M1019.3 198.7H1045.3M1032.3 185.7V211.7"/><path stroke-width="7" d="M1022.4 188.8L1042.2 208.6M1022.4 208.6L1042.2 188.8"/><path stroke-width="8" d="M1046.6 198.7H1072.6M1059.6 185.7V211.7"/><path stroke-width="7" d="M1049.7 188.8L1069.5 208.6M1049.7 208.6L1069.5 188.8"/><path stroke-width="8" d="M1073.7 201.5H1099.7M1086.7 188.5V214.5"/><path stroke-width="7" d="M1076.8 191.6L1096.6 211.4M1076.8 211.4L1096.6 191.6"/><path stroke-width="8" d="M1101 131.5H1127M1114 118.5V144.5"/><path stroke-width="7" d="M1104.1 121.6L1123.9 141.4M1104.1 141.4L1123.9 121.6"/><path stroke-width="8" d="M1128.6 213.8H1154.6M1141.6 200.8V226.8"/><path stroke-width="7" d="M1131.7 203.9L1151.5 223.7M1131.7 223.7L1151.5 203.9"/><path stroke-width="8" d="M1155.5 143.8H1181.5M1168.5 130.8V156.8"/><path stroke-width="7" d="M1158.6 133.9L1178.4 153.7M1158.6 153.7L1178.4 133.9"/><path stroke-width="8" d="M1182.5 140.7H1208.5M1195.5 127.7V153.7"/><path stroke-width="7" d="M1185.6 130.8L1205.4 150.6M1185.6 150.6L1205.4 130.8"/><path stroke-width="8" d="M1206.6 162H1232.6M1219.6 149V175"/><path stroke-width="7" d="M1209.7 152.1L1229.5 171.9M1209.7 171.9L1229.5 152.1"/><path stroke-width="8" d="M1234 131.5H1260M1247 118.5V144.5"/><path stroke-width="7" d="M1237.1 121.6L1256.9 141.4M1237.1 141.4L1256.9 121.6"/><path stroke-width="8" d="M1261.6 128.4H1287.6M1274.6 115.4V141.4"/><path stroke-width="7" d="M1264.7 118.5L1284.5 138.3M1264.7 138.3L1284.5 118.5"/><path stroke-width="8" d="M1288.5 186.9H1314.5M1301.5 173.9V199.9"/><path stroke-width="7" d="M1291.6 177L1311.4 196.8M1291.6 196.8L1311.4 177"/><path stroke-width="8" d="M1315.7 155.6H1341.7M1328.7 142.6V168.6"/><path stroke-width="7" d="M1318.8 145.7L1338.6 165.5M1318.8 165.5L1338.6 145.7"/><path stroke-width="8" d="M1342.7 122.6H1368.7M1355.7 109.6V135.6"/><path stroke-width="7" d="M1345.8 112.7L1365.6 132.5M1345.8 132.5L1365.6 112.7"/><path stroke-width="8" d="M1370.1 146.6H1396.1M1383.1 133.6V159.6"/><path stroke-width="7" d="M1373.2 136.7L1393 156.5M1373.2 156.5L1393 136.7"/><path stroke-width="8" d="M1397.5 198.9H1423.5M1410.5 185.9V211.9"/><path stroke-width="7" d="M1400.6 189L1420.4 208.8M1400.6 208.8L1420.4 189"/><path stroke-width="8" d="M1424.7 198.9H1450.7M1437.7 185.9V211.9"/><path stroke-width="7" d="M1427.8 189L1447.6 208.8M1427.8 208.8L1447.6 189"/><path stroke-width="8" d="M1451.8 243.8H1477.8M1464.8 230.8V256.8"/><path stroke-width="7" d="M1454.9 233.9L1474.7 253.7M1454.9 253.7L1474.7 233.9"/><path stroke-width="8" d="M1478.8 161.8H1504.8M1491.8 148.8V174.8"/><path stroke-width="7" d="M1481.9 151.9L1501.7 171.7M1481.9 171.7L1501.7 151.9"/><path stroke-width="8" d="M1506 225.8H1532M1519 212.8V238.8"/><path stroke-width="7" d="M1509.1 215.9L1528.9 235.7M1509.1 235.7L1528.9 215.9"/><path stroke-width="8" d="M1533.5 76.1H1559.5M1546.5 63.1V89.1"/><path stroke-width="7" d="M1536.6 66.2L1556.4 86M1536.6 86L1556.4 66.2"/><path stroke-width="8" d="M1557.5 195.8H1583.5M1570.5 182.8V208.8"/><path stroke-width="7" d="M1560.6 185.9L1580.4 205.7M1560.6 205.7L1580.4 185.9"/><path stroke-width="8" d="M1584.7 122.6H1610.7M1597.7 109.6V135.6"/><path stroke-width="7" d="M1587.8 112.7L1607.6 132.5M1587.8 132.5L1607.6 112.7"/><path stroke-width="8" d="M1611.8 213.8H1637.8M1624.8 200.8V226.8"/><path stroke-width="7" d="M1614.9 203.9L1634.7 223.7M1614.9 223.7L1634.7 203.9"/><path stroke-width="8" d="M1639.1 155.6H1665.1M1652.1 142.6V168.6"/><path stroke-width="7" d="M1642.2 145.7L1662 165.5M1642.2 165.5L1662 145.7"/><path stroke-width="8" d="M1666.6 198.9H1692.6M1679.6 185.9V211.9"/><path stroke-width="7" d="M1669.7 189L1689.5 208.8M1669.7 208.8L1689.5 189"/><path stroke-width="8" d="M1693.8 222.7H1719.8M1706.8 209.7V235.7"/><path stroke-width="7" d="M1696.9 212.8L1716.7 232.6M1696.9 232.6L1716.7 212.8"/><path stroke-width="8" d="M1721 171H1747M1734 158V184"/><path stroke-width="7" d="M1724.1 161.1L1743.9 180.9M1724.1 180.9L1743.9 161.1"/><path stroke-width="8" d="M1747.9 137.3H1773.9M1760.9 124.3V150.3"/><path stroke-width="7" d="M1751 127.4L1770.8 147.2M1751 147.2L1770.8 127.4"/><path stroke-width="8" d="M1775.6 204.5H1801.6M1788.6 191.5V217.5"/><path stroke-width="7" d="M1778.7 194.6L1798.5 214.4M1778.7 214.4L1798.5 194.6"/><path stroke-width="8" d="M1802.5 271.5H1828.5M1815.5 258.5V284.5"/><path stroke-width="7" d="M1805.6 261.6L1825.4 281.4M1805.6 281.4L1825.4 261.6"/><path stroke-width="8" d="M1830.1 176.9H1856.1M1843.1 163.9V189.9"/><path stroke-width="7" d="M1833.2 167L1853 186.8M1833.2 186.8L1853 167"/><path stroke-width="8" d="M1857.2 143.8H1883.2M1870.2 130.8V156.8"/><path stroke-width="7" d="M1860.3 133.9L1880.1 153.7M1860.3 153.7L1880.1 133.9"/><path stroke-width="8" d="M1884.5 192.2H1910.5M1897.5 179.2V205.2"/><path stroke-width="7" d="M1887.6 182.3L1907.4 202.1M1887.6 202.1L1907.4 182.3"/>
</g>
<g fill="none" stroke="#f00" stroke-width="7"><path d="M1310 846.4H1459"/><path fill="#f00" stroke="none" fill-rule="evenodd" d="M1366.4 846.4L1383 825.4L1399.6 846.4L1383 867.4ZM1376.2 846.4L1383 837.4L1389.8 846.4L1383 855.4Z"/></g>
<g fill="none" stroke="#00f" stroke-width="7"><path d="M1310 943.4H1459"/><path fill="#00f" stroke="none" fill-rule="evenodd" d="M1368 928h31v31h-31ZM1375 935h17v17h-17Z"/></g>
<g fill="none" stroke="#000" stroke-width="7"><path d="M1310 1040.3H1459"/><path stroke-width="8" d="M1370 1040.3H1396M1383 1027.3V1053.3"/><path stroke-width="7" d="M1373.1 1030.4L1392.9 1050.2M1373.1 1050.2L1392.9 1030.4"/></g>
</g>
<text y="877.7"><tspan x="1473.8" style="letter-spacing:0.12px">Suspender</tspan></text>
<text y="973.9"><tspan x="1472.8" style="letter-spacing:-0.27px">Main </tspan><tspan x="1660" style="letter-spacing:-1.00px">girder</tspan></text>
<text y="1070.7"><tspan x="1472.8" style="letter-spacing:-0.27px">Main </tspan><tspan x="1661" style="letter-spacing:0.35px">cable</tspan></text>
</svg>
</body>
</html>
